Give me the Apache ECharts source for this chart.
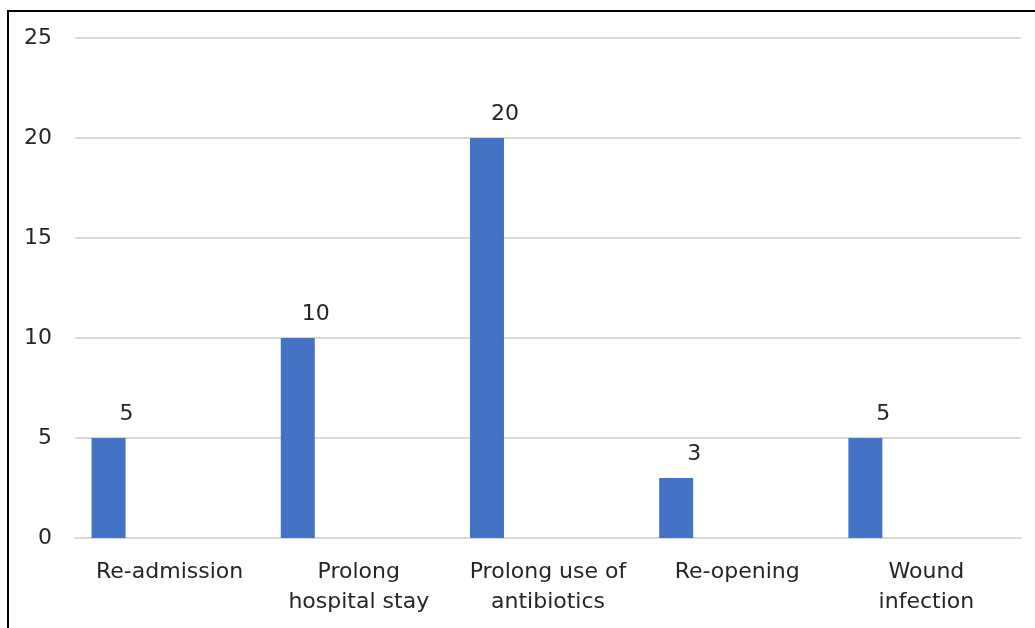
<!DOCTYPE html>
<html>
<head>
<meta charset="utf-8">
<script src="https://cdn.jsdelivr.net/npm/echarts@6/dist/echarts.min.js"></script>
<style>
  html, body { margin: 0; padding: 0; background: #fff; }
  #chart { width: 1035px; height: 628px; }
</style>
</head>
<body>
<div id="chart"></div>
<script>
var categories = ['Re-admission', 'Prolong\nhospital stay', 'Prolong use of\nantibiotics', 'Re-opening', 'Wound\ninfection'];
var values = [5, 10, 20, 3, 5];
var emptySeries = [null, null, null, null, null];
var yTicks = { min: 0, max: 25, interval: 5 };

var font = 'DejaVu Sans';
var chart = echarts.init(document.getElementById('chart'));
chart.setOption({
    animation: false,
    backgroundColor: '#fff',
    graphic: [
        {
            type: 'polyline',
            shape: { points: [[8, 640], [8, 11], [1040, 11]] },
            style: { stroke: '#000', lineWidth: 2, fill: null }
        }
    ],
    grid: {
        left: 75,
        right: 14,
        top: 38,
        bottom: 90
    },
    xAxis: {
        type: 'category',
        data: categories,
        axisLine: { show: true, lineStyle: { color: '#d9d9d9', width: 2 } },
        axisTick: { show: false },
        axisLabel: {
            color: '#262626',
            fontFamily: font,
            fontSize: 22,
            lineHeight: 30,
            margin: 19,
            interval: 0
        }
    },
    yAxis: {
        type: 'value',
        min: yTicks.min,
        max: yTicks.max,
        interval: yTicks.interval,
        axisLine: { show: false },
        axisTick: { show: false },
        splitLine: { lineStyle: { color: '#d9d9d9', width: 2 } },
        axisLabel: {
            color: '#262626',
            fontFamily: font,
            fontSize: 22,
            margin: 23
        }
    },
    series: [
        {
            name: 'Count',
            type: 'bar',
            data: values,
            barWidth: 34,
            barGap: '259%',
            itemStyle: { color: '#4472C4' },
            label: {
                show: true,
                position: 'top',
                offset: [18, -8],
                color: '#262626',
                fontFamily: font,
                fontSize: 22
            }
        },
        {
            name: 'Empty',
            type: 'bar',
            data: emptySeries,
            barWidth: 34,
            itemStyle: { color: '#ed7d31' }
        }
    ]
});
</script>
</body>
</html>
